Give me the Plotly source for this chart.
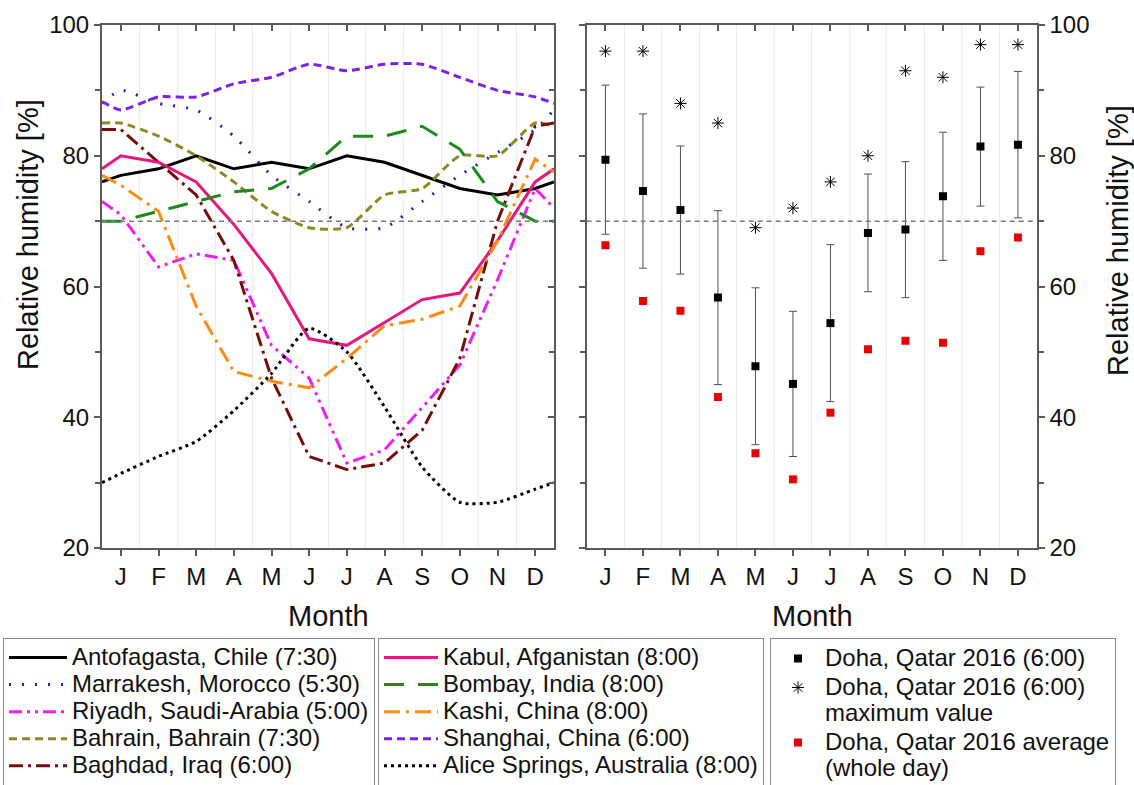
import plotly.graph_objects as go

FONT = "Liberation Sans, Arial, sans-serif"

# ---- data -------------------------------------------------------------
month_labels = ["J", "F", "M", "A", "M", "J", "J", "A", "S", "O", "N", "D"]
month_pos = list(range(1, 13))
# climate curves: year start, mid-month values, year end
x_line = [0.5] + month_pos + [12.5]

antofagasta = [76, 77, 78, 80, 78, 79, 78, 80, 79, 77, 75, 74, 75, 76]
marrakesh = [88, 90, 88, 87, 83, 77, 73, 69, 69, 73, 77, 80.5, 84, 87]
riyadh = [73, 71, 63, 65, 64, 51, 46, 33, 35, 41.5, 48, 61, 75, 72]
bahrain = [85, 85, 83, 80, 76, 71.5, 69, 69, 74, 75, 80, 80, 85, 84.5]
baghdad = [84, 84, 79, 74, 64, 46, 34, 32, 33, 38, 49, 70, 84.5, 85]
kabul = [78, 80, 79, 76, 69.5, 62, 52, 51, 54.5, 58, 59, 67, 76, 78]
bombay = [70, 70, 71.5, 73, 74.5, 75, 78, 83, 83, 84.5, 81, 73, 70, 70]
kashi = [77, 75.5, 71.5, 57, 47, 45.5, 44.5, 49, 54, 55, 57, 67, 79.5, 77.5]
shanghai = [88.3, 87, 89, 89, 91, 92, 94, 93, 94, 94, 92, 90, 89, 88]
alice_springs = [30, 31.4, 34, 36.3, 41, 46.7, 53.6, 50, 41.6, 32.4, 27, 27, 29, 30]

doha_6am = [79.4, 74.6, 71.7, 58.3, 47.8, 45.1, 54.4, 68.2, 68.7, 73.8, 81.4, 81.7]
doha_6am_sd = [11.4, 11.8, 9.8, 13.3, 12.0, 11.1, 12.0, 9.0, 10.4, 9.8, 9.1, 11.2]
doha_6am_max = [96, 96, 88, 85, 69, 72, 76, 80, 93, 92, 97, 97]
doha_day_avg = [66.3, 57.8, 56.3, 43.1, 34.5, 30.5, 40.7, 50.4, 51.7, 51.4, 65.4, 67.5]

comfort_level = 70

# ---- styling ----------------------------------------------------------
LEG_SIZE = 24

def leg(text):
    return f'<span style="font-size:{LEG_SIZE}px">{text}</span>'

city_styles = [
    # name, values, colour, dash, shape, legend
    ("Antofagasta, Chile (7:30)", antofagasta, "#000000", "solid", "linear", "legend"),
    ("Marrakesh, Morocco (5:30)", marrakesh, "#2323a8", "2px,11px", "spline", "legend"),
    ("Riyadh, Saudi-Arabia (5:00)", riyadh, "#ee1fee", "13px,5px,3px,5px,3px,5px", "linear", "legend"),
    ("Bahrain, Bahrain (7:30)", bahrain, "#8a8a24", "8px,5px", "spline", "legend"),
    ("Baghdad, Iraq (6:00)", baghdad, "#760d0d", "14px,5px,3px,5px", "linear", "legend"),
    ("Kabul, Afganistan (8:00)", kabul, "#e3197b", "solid", "linear", "legend2"),
    ("Bombay, India (8:00)", bombay, "#1d8a1d", "20px,14px", "linear", "legend2"),
    ("Kashi, China (8:00)", kashi, "#ff8a14", "16px,6px,3px,6px", "linear", "legend2"),
    ("Shanghai, China (6:00)", shanghai, "#7b22e6", "8px,5px", "spline", "legend2"),
    ("Alice Springs, Australia (8:00)", alice_springs, "#000000", "3px,4px", "spline", "legend2"),
]

fig = go.Figure()

for name, vals, color, dash, shape, legend_id in city_styles:
    fig.add_trace(go.Scatter(
        x=x_line, y=vals, mode="lines", name=leg(name),
        line=dict(color=color, width=3, dash=dash, shape=shape, smoothing=0.6),
        xaxis="x", yaxis="y", legend=legend_id,
    ))

fig.add_trace(go.Scatter(
    x=month_pos, y=doha_6am, mode="markers", name=leg("Doha, Qatar 2016 (6:00)"),
    marker=dict(symbol="square", size=8, color="#000000"),
    error_y=dict(type="data", array=doha_6am_sd, visible=True,
                 color="#505050", thickness=1, width=4),
    xaxis="x2", yaxis="y2", legend="legend3",
))
fig.add_trace(go.Scatter(
    x=month_pos, y=doha_6am_max, mode="markers",
    name=leg("Doha, Qatar 2016 (6:00)<br>maximum value"),
    marker=dict(symbol="asterisk-open", size=10, color="#000000",
                line=dict(width=1, color="#000000")),
    xaxis="x2", yaxis="y2", legend="legend3",
))
fig.add_trace(go.Scatter(
    x=month_pos, y=doha_day_avg, mode="markers",
    name=leg("Doha, Qatar 2016 average<br>(whole day)"),
    marker=dict(symbol="square", size=8, color="#e60000"),
    xaxis="x2", yaxis="y2", legend="legend3",
))

# empty traces so the mirrored frame axes are created
for xa, ya in (("x3", "y3"), ("x4", "y4")):
    fig.add_trace(go.Scatter(x=[], y=[], xaxis=xa, yaxis=ya,
                             showlegend=False, hoverinfo="skip"))

# ---- axes -------------------------------------------------------------
W, H = 1134, 785
left_dom = [102 / W, 554 / W]
right_dom = [586.7 / W, 1036.7 / W]
y_dom = [1 - 548 / H, 1 - 25 / H]
FRAME = "#5a5a5a"
xr = [0.5, 12.5]
yr = [20, 100]
bounds = [m + 0.5 for m in month_pos[:-1]]

def xaxis(domain, anchor, ticks, side="bottom", labels=True, overlay=None, grid=True):
    d = dict(domain=domain, anchor=anchor, range=xr, side=side, automargin=False,
             tickvals=month_pos, ticktext=month_labels, showticklabels=labels,
             ticks=ticks, ticklen=6, tickwidth=1.5, tickcolor=FRAME,
             showline=True, linecolor=FRAME, linewidth=2, mirror=False,
             showgrid=False, zeroline=False,
             tickfont=dict(size=24, color="#111111", family=FONT))
    if grid:
        d["minor"] = dict(tickvals=bounds, showgrid=True, gridcolor="#ececec",
                          gridwidth=1, ticks="")
    if overlay:
        d["overlaying"] = overlay
    return d

def yaxis(anchor, ticks, side="left", labels=True, overlay=None, domain=None):
    d = dict(anchor=anchor, range=yr, side=side, tickvals=[20, 40, 60, 80, 100],
             automargin=False,
             showticklabels=labels, ticks=ticks, ticklen=6, tickwidth=1.5,
             tickcolor=FRAME, showline=True, linecolor=FRAME, linewidth=2,
             showgrid=False, zeroline=False,
             minor=dict(tickvals=[30, 50, 70, 90], ticks=ticks, ticklen=5,
                        tickwidth=1.5, tickcolor=FRAME),
             tickfont=dict(size=24, color="#111111", family=FONT))
    if domain:
        d["domain"] = domain
    if overlay:
        d["overlaying"] = overlay
    return d

fig.update_layout(
    xaxis=xaxis(left_dom, "y", "outside"),
    yaxis=yaxis("x", "outside", domain=y_dom),
    xaxis3=xaxis(left_dom, "y", "inside", side="top", labels=False, overlay="x", grid=False),
    yaxis3=yaxis("x", "inside", side="right", labels=False, overlay="y"),
    xaxis2=xaxis(right_dom, "y2", "outside"),
    yaxis2=yaxis("x2", "outside", side="right", domain=y_dom),
    xaxis4=xaxis(right_dom, "y2", "inside", side="top", labels=False, overlay="x2", grid=False),
    yaxis4=yaxis("x2", "outside", side="left", labels=False, overlay="y2"),
)

# 70 % reference level in both panels
for xd, ya in (("x domain", "y"), ("x2 domain", "y2")):
    fig.add_shape(type="line", xref=xd, x0=0, x1=1, yref=ya,
                  y0=comfort_level, y1=comfort_level,
                  line=dict(color="#7a7a7a", width=1.5, dash="5px,4px"))

# ---- titles -----------------------------------------------------------
title_font = dict(size=29, color="#111111", family=FONT)
annotations = [
    dict(text="Month", x=328 / W, y=1 - 616 / H),
    dict(text="Month", x=812 / W, y=1 - 616 / H),
    dict(text="Relative humidity [%]", x=28 / W, y=1 - 235 / H, textangle=-90),
    dict(text="Relative humidity [%]", x=1118 / W, y=1 - 241 / H, textangle=-90),
]
for a in annotations:
    fig.add_annotation(xref="paper", yref="paper", showarrow=False,
                       xanchor="center", yanchor="middle", font=title_font, **a)

# ---- legends ----------------------------------------------------------
def legend_box(x, itemwidth, base_size):
    return dict(x=x, y=1 - 638 / H, xanchor="left", yanchor="top",
                bgcolor="#ffffff", bordercolor="#8a8a8a", borderwidth=1,
                font=dict(size=base_size, color="#111111", family=FONT),
                itemwidth=itemwidth, valign="top", tracegroupgap=0,
                itemclick=False, itemdoubleclick=False)

fig.update_layout(
    legend=legend_box(3 / W, 58, 18.5),
    legend2=legend_box(378 / W, 54, 18.5),
    legend3=legend_box(770 / W, 44, 20),
)

fig.update_layout(
    width=W, height=H,
    margin=dict(l=0, r=0, t=0, b=0, pad=0, autoexpand=False),
    paper_bgcolor="#ffffff", plot_bgcolor="#ffffff",
    font=dict(family=FONT, color="#111111"),
)

fig.write_html("out.html")
